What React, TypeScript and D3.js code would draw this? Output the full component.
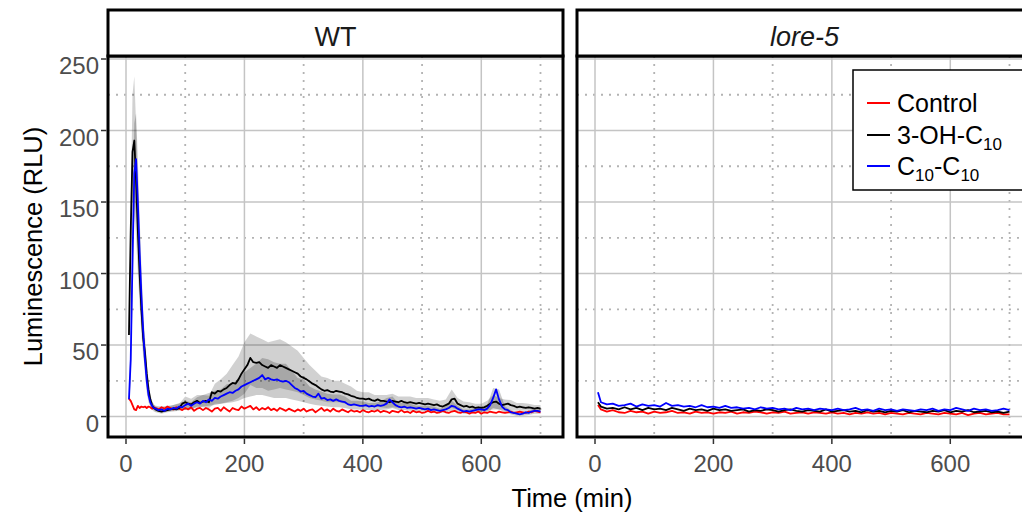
import React from "react";
import * as d3 from "d3";

const width = 1022;
const height = 515;
const font = "'Liberation Sans', Arial, sans-serif";

const panelTitles = ["WT", "lore-5"];
const seriesColors = ["#ff0000", "#000000", "#0000ff"];

const xTicks = [0, 200, 400, 600];
const xMinor = [100, 300, 500, 700];
const yTicks = [0, 50, 100, 150, 200, 250];
const yMinor = [25, 75, 125, 175, 225];

// WT means (min)
const wtTime = [
  5, 8, 11, 14, 17, 20, 23, 26, 29, 32, 35, 38, 41, 44, 47,
  50, 55, 60, 65, 70, 75, 80, 85, 90, 95, 100, 105, 110, 115, 120, 125, 130, 135, 140, 145,
  150, 155, 160, 165, 170, 175, 180, 185, 190, 195, 200, 205, 210, 215, 220, 225, 230, 235, 240, 245,
  250, 255, 260, 265, 270, 275, 280, 285, 290, 295, 300, 305, 310, 315, 320, 325, 330, 335, 340, 345,
  350, 355, 360, 365, 370, 375, 380, 385, 390, 395, 400, 405, 410, 415, 420, 425, 430, 435, 440, 445,
  450, 455, 460, 465, 470, 475, 480, 485, 490, 495, 500, 505, 510, 515, 520, 525, 530, 535, 540, 545,
  550, 555, 560, 565, 570, 575, 580, 585, 590, 595, 600, 605, 610, 615, 620, 625, 630, 635, 640, 645,
  650, 655, 660, 665, 670, 675, 680, 685, 690, 695, 700,
];
const wtControl = [
  12.5, 11, 8, 5, 4.5, 7.5, 6, 7, 6.5, 7, 6, 7, 6.5, 5.5, 6.5,
  6, 5, 6.5, 5.5, 7, 6, 5, 6.5, 5.5, 4.5, 6, 5, 6.5, 4, 5.5, 6, 4.5, 6, 5, 3.5,
  5.5, 6, 4, 6.5, 5, 3.5, 6, 5, 4.5, 7, 5.5, 6.5, 7.5, 5, 6.5, 4.5, 6, 5, 6.5, 4.5,
  5.5, 4, 6, 5, 4, 5.5, 4.5, 3.5, 5, 4, 5.5, 3.5, 4.5, 5, 3, 4.5, 6, 4, 5, 3.5,
  5.5, 4, 3.5, 5, 4, 3, 4.5, 3.5, 4, 3, 4.5, 3.5, 3, 4, 3.5, 4.5, 3, 4, 3.5, 2.5,
  4, 3.5, 3, 4.5, 3, 3.5, 2.5, 4, 3, 3.5, 2.5, 3, 4, 3, 3.5, 2.5, 3, 4, 3, 2.5,
  3.5, 4, 3, 2.5, 3.5, 3, 2, 3, 2.5, 3.5, 2, 3, 2.5, 3.5, 3, 2.5, 3.5, 3, 2.5, 3,
  3.5, 2.5, 3, 3.5, 3, 2.5, 3.5, 3, 4, 3.5, 3,
];
const wtOH = [
  57, 130, 185, 193, 165, 130, 100, 75, 55, 45, 30, 19, 12, 8, 6,
  5, 4, 3.5, 4, 4.5, 5, 5.5, 5, 6, 9, 10, 9, 8.5, 10, 11, 9.5, 10.5, 11, 10, 17,
  16, 18, 17.5, 19, 20, 22, 23.5, 23, 26, 30, 33, 36, 41, 38, 37.5, 38, 36, 35, 34, 36,
  35, 34, 36, 35, 34, 33, 32, 31, 30, 28, 27, 26, 24.5, 23, 22, 20.5, 19, 18, 18.5, 17.5,
  17, 18, 17.5, 17, 16, 15.5, 14.5, 14, 13, 12.5, 12.5, 12, 12.5, 11.5, 11, 12, 11, 11, 10.5, 10,
  11, 10.5, 10, 11, 10, 9.5, 10, 9.5, 9, 9.5, 9, 8.5, 9, 8.5, 8, 8.5, 7.5, 7, 8, 9,
  12, 12.5, 9, 8, 7, 7.5, 6.5, 7, 6, 6.5, 6, 6.5, 7.5, 9, 10, 10.5, 9, 8, 8.5, 9,
  8, 7.5, 6.5, 7, 6.5, 6, 6.5, 6, 5.5, 6, 5.5,
];
const wtC10 = [
  12, 40, 110, 170, 180, 150, 115, 85, 60, 40, 25, 15, 10, 7.5, 6,
  5.5, 4.5, 5, 4, 5.5, 5, 6, 5.5, 7, 6.5, 8, 9, 7.5, 9, 10, 9, 11, 10, 12, 11,
  13, 12.5, 14, 15, 16, 17, 16.5, 18, 19, 21, 22, 23, 24, 25, 26, 27, 29, 26, 27, 26,
  25.5, 26, 25, 24.5, 25, 24, 22, 20, 19, 17.5, 18, 16, 15, 14, 13.5, 16, 12.5, 13, 11.5, 12,
  11, 12, 11, 10.5, 10, 8.5, 8, 8.5, 8, 7.5, 7.5, 8, 7, 7.5, 7, 8, 7.5, 8, 9, 12,
  10, 8, 7, 6.5, 7, 6, 6.5, 6, 5.5, 6, 5.5, 5, 5.5, 4.5, 5, 4.5, 4, 4.5, 5, 6,
  7.5, 7, 5.5, 4.5, 3.5, 4, 3.5, 4, 4.5, 5, 5, 4.5, 5.5, 8, 13, 19, 12, 7, 5, 4.5,
  3, 2.5, 2, 1.5, 2, 3, 2.5, 3.5, 4, 4, 3.5,
];

// WT error bands
const wtBandTime = [
  5, 8, 11, 14, 17, 20, 23, 26, 29, 32, 35, 38, 41, 44, 47,
  50, 60, 70, 80, 90, 100, 110, 120, 130, 140, 150, 160, 170, 180, 190,
  200, 210, 220, 230, 240, 250, 260, 270, 280, 290, 300, 310, 320, 330, 340,
  350, 360, 370, 380, 390, 400, 410, 420, 430, 440, 450, 460, 470, 480, 490,
  500, 510, 520, 530, 540, 550, 560, 570, 580, 590, 600, 610, 620, 630, 640,
  650, 660, 670, 680, 690, 700,
];
const wtOHLow = [
  50, 105, 150, 150, 125, 100, 78, 58, 42, 35, 23, 14, 8, 5, 3.5,
  3, 2, 3, 3.5, 4, 6, 5, 7, 6.5, 6, 9, 9, 10, 11, 13,
  16, 22, 20, 20, 18, 19, 20, 19, 18, 17, 15, 13, 12, 11, 10,
  10, 10, 9, 8, 8, 7, 7, 7, 6.5, 6, 6.5, 6, 6, 6, 5.5,
  5.5, 5, 4.5, 4, 4.5, 6, 5, 4, 4, 3.5, 3.5, 4, 5, 5, 5,
  4.5, 4, 4, 4, 3.5, 3.5,
];
const wtOHHigh = [
  64, 150, 225, 238, 205, 160, 122, 92, 68, 56, 38, 25, 16, 11, 8.5,
  7, 5.5, 6.5, 8, 9, 14, 12.5, 15, 15, 14.5, 23, 26, 30, 36, 42,
  52, 58, 56, 54, 52, 53, 54, 52, 49, 46, 41, 36, 32, 28, 27,
  25, 25, 23, 21, 18, 17, 17, 15, 15, 15, 16, 14, 14, 14, 13,
  13, 13, 12, 11, 12, 19, 13, 10.5, 10, 9, 9, 11, 15, 13, 12,
  11.5, 9.5, 9.5, 9, 8, 8,
];
const wtC10Low = [
  8, 25, 80, 135, 150, 120, 90, 65, 45, 30, 17, 10, 7, 5, 4.5,
  3.5, 3, 3.5, 4, 4.5, 5, 5, 6.5, 7, 7.5, 8, 9, 9.5, 10, 11,
  13, 14, 15, 15, 14, 13, 13, 13, 12, 11, 10, 9, 8, 7.5, 7,
  6.5, 6.5, 6, 5, 5, 4.5, 4.5, 4.5, 4.5, 5, 6, 4.5, 4.5, 4, 3.5,
  3.5, 3.5, 3, 2.5, 3, 4, 3.5, 2, 2, 2.5, 3, 3, 6, 5, 3,
  1.5, 0.5, 0.5, 1, 2, 2,
];
const wtC10High = [
  16, 55, 140, 205, 212, 180, 140, 105, 75, 52, 34, 21, 14, 10.5, 8.5,
  7.5, 7, 7.5, 8, 9.5, 11, 10, 13.5, 15, 16.5, 18, 19, 22.5, 23, 27,
  31, 34, 37, 41, 40, 38, 37, 37, 32, 27, 26, 21, 19, 17.5, 16,
  15.5, 15.5, 14, 11, 11, 10.5, 9.5, 9.5, 10.5, 13, 14, 9.5, 9.5, 9, 7.5,
  7.5, 7.5, 7, 5.5, 7, 11, 7.5, 5, 5, 6.5, 7, 8, 20, 19, 7,
  4.5, 3.5, 3.5, 4, 6, 5,
];

// lore-5 means
const loreTime = [
  5, 10, 20, 30, 40, 50, 60, 70, 80, 90, 100, 110, 120, 130, 140, 150, 160, 170, 180, 190,
  200, 210, 220, 230, 240, 250, 260, 270, 280, 290, 300, 310, 320, 330, 340, 350, 360, 370, 380, 390,
  400, 410, 420, 430, 440, 450, 460, 470, 480, 490, 500, 510, 520, 530, 540, 550, 560, 570, 580, 590,
  600, 610, 620, 630, 640, 650, 660, 670, 680, 690, 700,
];
const loreControl = [
  8, 5, 3.5, 4.5, 3, 2.5, 4, 3, 3.5, 2, 3.5, 2.5, 3, 4, 2.5, 3, 2, 3.5, 2.5, 3,
  2, 3, 2.5, 3.5, 2, 3, 2.5, 3.5, 3, 2, 3, 2.5, 3.5, 2, 2.5, 3, 2, 3, 2.5, 2,
  3, 2, 2.5, 1.5, 2.5, 2, 3, 2, 2.5, 1.5, 2.5, 2, 1.5, 2.5, 2, 1.5, 2.5, 2, 1.5, 2.5,
  2, 1.5, 2.5, 1, 2, 2.5, 1.5, 2, 2.5, 1.5, 1.5,
];
const loreOH = [
  10, 7, 5.5, 6, 5, 6.5, 5, 6, 4.5, 6, 5, 5.5, 4.5, 6, 5, 4, 5.5, 4.5, 5, 4,
  5.5, 4.5, 5, 4, 4.5, 5, 3.5, 4.5, 4, 5, 4.5, 3.5, 4.5, 5, 4, 3.5, 4.5, 4, 3.5, 5,
  3.5, 4, 4.5, 3.5, 4, 3, 4.5, 3.5, 4, 3, 4, 3.5, 4.5, 3, 4, 3.5, 3, 4, 3.5, 4.5,
  3, 4, 3.5, 4.5, 3, 3.5, 4, 3, 3.5, 2.5, 3.5,
];
const loreC10 = [
  17, 10, 8.5, 9, 7.5, 8, 9, 7, 8.5, 7.5, 8, 7, 9.5, 7.5, 8, 7, 7.5, 6.5, 8, 6.5,
  7, 6, 7.5, 6, 6.5, 5.5, 6, 5, 6.5, 5.5, 6, 5, 5.5, 4.5, 6, 5, 5.5, 4.5, 5.5, 5,
  4.5, 5.5, 4.5, 5, 6, 4.5, 5, 4, 5.5, 4.5, 5, 4, 5, 4.5, 4, 5, 4.5, 5.5, 4, 5,
  4.5, 6, 5, 4, 5.5, 4.5, 5, 4, 4.5, 5.5, 4.5,
];

const panelLeft = [108, 577];
const panelW = 455;
const panelTop = 56;
const panelBottom = 437;
const stripTop = 10;

const y = d3.scaleLinear().domain([-14.3, 252.1]).range([panelBottom, panelTop]);

function Panel({ index }: { index: number }) {
  const left = panelLeft[index];
  const x = d3.scaleLinear().domain([-30.4, 738]).range([left, left + panelW]);
  const isWT = index === 0;
  const time = isWT ? wtTime : loreTime;
  const series = isWT ? [wtControl, wtOH, wtC10] : [loreControl, loreOH, loreC10];

  const line = (vals: number[]) =>
    d3.line<number>().x((_, i) => x(time[i])).y((d) => y(d))(vals) || "";
  const band = (lo: number[], hi: number[]) =>
    d3
      .area<number>()
      .x((_, i) => x(wtBandTime[i]))
      .y0((_, i) => y(lo[i]))
      .y1((_, i) => y(hi[i]))(lo) || "";

  return (
    <g>
      {/* grid */}
      {yMinor.map((v) => (
        <line key={"ym" + v} x1={left} x2={left + panelW} y1={y(v)} y2={y(v)}
          stroke="#b3b3b3" strokeWidth={1.8} strokeDasharray="2,6" />
      ))}
      {xMinor.map((v) => (
        <line key={"xm" + v} x1={x(v)} x2={x(v)} y1={panelTop} y2={panelBottom}
          stroke="#b3b3b3" strokeWidth={1.8} strokeDasharray="2,6" />
      ))}
      {yTicks.map((v) => (
        <line key={"yg" + v} x1={left} x2={left + panelW} y1={y(v)} y2={y(v)}
          stroke="#c4c4c4" strokeWidth={1.5} />
      ))}
      {xTicks.map((v) => (
        <line key={"xg" + v} x1={x(v)} x2={x(v)} y1={panelTop} y2={panelBottom}
          stroke="#c4c4c4" strokeWidth={1.5} />
      ))}

      {isWT && (
        <g>
          <path d={band(wtOHLow, wtOHHigh)} fill="#000" fillOpacity={0.18} />
          <path d={band(wtC10Low, wtC10High)} fill="#000" fillOpacity={0.2} />
        </g>
      )}

      {series.map((vals, k) => (
        <path key={k} d={line(vals)} fill="none" stroke={seriesColors[k]}
          strokeWidth={1.8} strokeLinejoin="round" />
      ))}

      {/* panel border */}
      <rect x={left} y={panelTop} width={panelW} height={panelBottom - panelTop}
        fill="none" stroke="#000" strokeWidth={3} />

      {/* strip */}
      <rect x={left} y={stripTop} width={panelW} height={panelTop - stripTop}
        fill="#fff" stroke="#000" strokeWidth={3} />
      <text x={left + panelW / 2} y={37} dy="0.35em"
        textAnchor="middle" fontSize={27} fill="#1a1a1a"
        fontStyle={isWT ? "normal" : "italic"}>
        {panelTitles[index]}
      </text>

      {/* x axis */}
      {xTicks.map((v) => (
        <g key={"xt" + v}>
          <line x1={x(v)} x2={x(v)} y1={panelBottom + 1.5} y2={panelBottom + 7} stroke="#333" strokeWidth={1.5} />
          <text x={x(v)} y={464} dy="0.35em" textAnchor="middle" fontSize={24} fill="#4d4d4d">
            {v}
          </text>
        </g>
      ))}
    </g>
  );
}

function Sub({ children }: { children: string }) {
  return (
    <tspan fontSize={17} dy={6}>
      {children}
    </tspan>
  );
}

export default function App() {
  const legendItems = [
    { color: seriesColors[0], label: <tspan>Control</tspan> },
    {
      color: seriesColors[1],
      label: (
        <>
          <tspan>3-OH-C</tspan>
          <Sub>10</Sub>
        </>
      ),
    },
    {
      color: seriesColors[2],
      label: (
        <>
          <tspan>C</tspan>
          <Sub>10</Sub>
          <tspan dy={-6}>-C</tspan>
          <Sub>10</Sub>
        </>
      ),
    },
  ];
  const legendY = [103, 135, 166];

  return (
    <svg width={width} height={height} fontFamily={font}
      style={{ position: "absolute", left: 0, top: 0, background: "#fff" }}>
      <rect width={width} height={height} fill="#fff" />
      <Panel index={0} />
      <Panel index={1} />

      {/* y axis */}
      {yTicks.map((v) => (
        <g key={"yt" + v}>
          <line x1={101} x2={106.5} y1={y(v)} y2={y(v)} stroke="#333" strokeWidth={1.5} />
          <text x={99} y={y(v) + 7} dy="0.35em" textAnchor="end" fontSize={24} fill="#4d4d4d">
            {v}
          </text>
        </g>
      ))}

      <text transform={`translate(33,${(panelTop + panelBottom) / 2}) rotate(-90)`}
        dy="0.35em" textAnchor="middle" fontSize={25.5} fill="#000">
        Luminescence (RLU)
      </text>
      <text x={572} y={498} dy="0.35em" textAnchor="middle" fontSize={25.5} fill="#000">
        Time (min)
      </text>

      {/* legend */}
      <rect x={853} y={70} width={185} height={120} fill="#fff" stroke="#000" strokeWidth={1.5} />
      {legendItems.map((it, i) => (
        <g key={i}>
          <line x1={867} x2={890} y1={legendY[i]} y2={legendY[i]} stroke={it.color} strokeWidth={2} />
          <text x={897} y={legendY[i]} dy="0.35em" fontSize={25} fill="#000">
            {it.label}
          </text>
        </g>
      ))}
    </svg>
  );
}
